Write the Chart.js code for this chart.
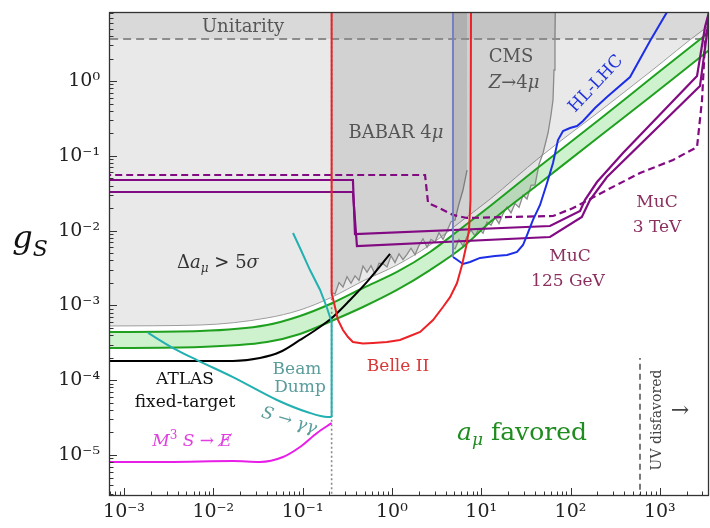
<!DOCTYPE html>
<html>
<head>
<meta charset="utf-8">
<script src="https://cdn.jsdelivr.net/npm/chart.js"></script>
<style>
  html, body { margin: 0; padding: 0; background: #fff; }
  #wrap { width: 710px; height: 528px; }
</style>
</head>
<body>
<div id="wrap"><canvas id="c" width="710" height="528"></canvas></div>
<script>
// ---- axis ranges and ticks (mass in GeV, coupling g_S) ----
const massRange = [6.79e-4, 3556];
const couplingRange = [2.83e-6, 8.37];
const xTickValues = [1e-3, 1e-2, 1e-1, 1, 10, 100, 1000];
const xTickLabels = ['10⁻³', '10⁻²', '10⁻¹', '10⁰', '10¹', '10²', '10³'];
const yTickValues = [1e-5, 1e-4, 1e-3, 1e-2, 1e-1, 1];
const yTickLabels = ['10⁻⁵', '10⁻⁴', '10⁻³', '10⁻²', '10⁻¹', '10⁰'];

// ---- reference values ----
const muonPairThreshold = 0.2113;   // 2 m_mu
const unitarityBound = 3.64;
const uvMass = 600;
const uvLineTop = 1.98e-4;

// ---- a_mu favoured band and 5 sigma exclusion ----
const bandMass  = [6e-4, 7.10e-3, 3.99e-2, 9.35e-2, 0.21, 0.474, 1.14, 2.67, 6.25, 12.6, 45.6, 214, 777, 3048, 3841];
const bandUpper = [4.41e-4, 4.55e-4, 5.47e-4, 7.22e-4, 1.06e-3, 1.71e-3, 2.80e-3, 5.18e-3, 1.117e-2, 2.13e-2, 7.31e-2, 0.310, 1.063, 3.88, 4.81];
const bandLower = [2.69e-4, 2.78e-4, 3.24e-4, 4.15e-4, 6.18e-4, 9.52e-4, 1.61e-3, 2.97e-3, 6.04e-3, 1.30e-2, 4.33e-2, 0.184, 0.611, 2.23, 2.76];
const excl5Sigma = [5.31e-4, 5.47e-4, 6.79e-4, 8.68e-4, 1.28e-3, 2.12e-3, 3.47e-3, 6.42e-3, 1.39e-2, 2.64e-2, 9.64e-2, 0.397, 1.32, 4.81, 5.78];

// ---- BABAR 4mu limit ----
const babarMass = [0.2113, 0.2306, 0.2557, 0.2834, 0.3142, 0.3483, 0.3861, 0.4281, 0.4746, 0.5261, 0.5834, 0.6467, 0.7167, 0.7949, 0.8814, 0.9770, 1.083, 1.201, 1.331, 1.476, 1.636, 1.814, 2.012, 2.230, 2.473, 2.741, 3.039, 3.369, 3.735, 4.140, 4.590, 5.089, 5.642, 6.255, 6.934];
const babarCoupling = [1.50e-3, 1.420e-3, 2.017e-3, 1.756e-3, 2.419e-3, 1.974e-3, 2.480e-3, 2.159e-3, 3.363e-3, 2.770e-3, 3.394e-3, 2.629e-3, 3.654e-3, 3.609e-3, 3.261e-3, 4.603e-3, 3.734e-3, 4.880e-3, 4.095e-3, 4.821e-3, 5.834e-3, 4.747e-3, 6.340e-3, 7.767e-3, 6.000e-3, 7.625e-3, 7.019e-3, 9.374e-3, 7.625e-3, 9.878e-3, 1.315e-2, 1.386e-2, 2.289e-2, 3.489e-2, 6.458e-2];

// ---- CMS Z -> 4mu limit ----
const cmsMass = [4.83, 5.089, 5.642, 6.255, 6.934, 7.688, 8.523, 9.450, 10.48, 11.61, 12.88, 14.27, 15.83, 17.54, 19.45, 21.57, 23.91, 26.51, 29.39, 32.58, 36.13, 40.05, 44.40, 49.23, 56.0, 60.47, 63.7, 65.35, 67.0, 67.6];
const cmsCoupling = [5.9e-3, 5.710e-3, 7.625e-3, 6.222e-3, 8.316e-3, 1.012e-2, 8.496e-3, 1.063e-2, 9.203e-3, 1.303e-2, 1.181e-2, 1.501e-2, 1.241e-2, 1.677e-2, 2.067e-2, 1.730e-2, 2.296e-2, 2.042e-2, 2.974e-2, 2.646e-2, 4.021e-2, 4.096e-2, 7.697e-2, 0.1090, 0.2017, 0.351, 0.557, 1.403, 3.53, 10];

// ---- Belle II projection ----
const belleMass = [0.2113, 0.2113, 0.2306, 0.249, 0.283, 0.3224, 0.366, 0.474, 0.614, 0.881, 1.23, 1.595, 2.07, 2.89, 3.73, 4.48, 5.36, 6.10, 6.76, 7.30, 7.59, 7.69];
const belleCoupling = [10, 1.47e-3, 9.52e-4, 6.38e-4, 4.69e-4, 3.78e-4, 3.24e-4, 3.09e-4, 3.14e-4, 3.24e-4, 3.45e-4, 3.90e-4, 4.41e-4, 6.38e-4, 9.52e-4, 1.29e-3, 1.99e-3, 3.47e-3, 6.04e-3, 1.02e-2, 2.56e-2, 10];

// ---- HL-LHC projection ----
const hllhcMass = [4.83, 5.22, 6.25, 7.50, 9.70, 14.27, 19.5, 25.2, 29.4, 32.6, 38.0, 45.6, 54.6, 63.7, 72.4, 82.4, 98.7, 118.3, 138, 188, 256, 464, 777, 1205, 1268];
const hllhcCoupling = [4.44e-3, 4.17e-3, 3.58e-3, 3.80e-3, 4.31e-3, 4.57e-3, 4.72e-3, 5.18e-3, 6.42e-3, 8.73e-3, 1.39e-2, 2.20e-2, 4.33e-2, 8.01e-2, 0.1627, 0.2146, 0.235, 0.2503, 0.292, 0.4356, 0.611, 1.131, 3.43, 8.37, 10];
const hllhcEdgeMass = [4.83, 4.83];
const hllhcEdgeCoupling = [10, 4.44e-3];

// ---- muon collider projections ----
const mucSolidAMass = [6e-4, 0.366, 0.386, 58.9, 128, 145, 198, 387, 2612, 3208, 3556];
const mucSolidACoupling = [0.0475, 0.0475, 9.01e-3, 1.152e-2, 1.83e-2, 2.56e-2, 4.46e-2, 0.109, 1.166, 5.27, 8.37];
const mucSolidBMass = [6e-4, 0.366, 0.406, 58.9, 134, 165, 256, 2818, 3378, 3556];
const mucSolidBCoupling = [0.0328, 0.0328, 6.22e-3, 8.21e-3, 1.52e-2, 2.56e-2, 5.21e-2, 0.857, 4.38, 7.63];
const mucDashedMass = [6e-4, 2.35, 2.54, 3.20, 4.83, 6.93, 63.7, 107, 256, 600, 1406, 2612, 2972, 3208, 3556];
const mucDashedCoupling = [0.0554, 0.0554, 0.0234, 0.0207, 0.0162, 0.01474, 0.01567, 0.0200, 0.0349, 0.0589, 0.0880, 0.131, 0.557, 3.22, 7.63];

// ---- ATLAS fixed-target ----
const atlasMass = [6e-4, 1.66e-2, 3.33e-2, 5.58e-2, 9.35e-2, 0.145, 0.219, 0.340, 0.526, 0.953];
const atlasCoupling = [1.81e-4, 1.81e-4, 1.98e-4, 2.38e-4, 3.45e-4, 4.84e-4, 7.00e-4, 1.18e-3, 2.06e-3, 4.87e-3];

// ---- beam dump S -> gamma gamma ----
const beamDumpEdgeMass = [7.81e-2, 9.35e-2, 0.121, 0.157, 0.1876, 0.2113, 0.2113];
const beamDumpEdgeCoupling = [9.29e-3, 5.85e-3, 2.97e-3, 1.61e-3, 9.23e-4, 6.00e-4, 3.22e-5];
const beamDumpFloorMass = [1.86e-3, 3.54e-3, 6.57e-3, 1.66e-2, 5.16e-2, 0.112, 0.192, 0.2113];
const beamDumpFloorCoupling = [4.28e-4, 2.69e-4, 1.86e-4, 1.10e-4, 5.44e-5, 3.76e-5, 3.22e-5, 3.22e-5];

// ---- M^3 invisible ----
const m3Mass = [6e-4, 3.03e-3, 1.66e-2, 3.33e-2, 6.03e-2, 9.35e-2, 0.145, 0.2113];
const m3Coupling = [8.06e-6, 8.06e-6, 8.31e-6, 8.06e-6, 9.40e-6, 1.28e-5, 1.97e-5, 2.68e-5];

const pts = (xs, ys) => xs.map((x, i) => ({ x, y: ys[i] }));

const SERIF = "'DejaVu Serif', 'Liberation Serif', serif";

function line(data, color, extra) {
  return Object.assign({
    data, borderColor: color, backgroundColor: 'transparent', borderWidth: 2,
    pointRadius: 0, fill: false, tension: 0
  }, extra || {});
}

const datasets = [
  // 0: 5 sigma exclusion (filled above)
  line(pts(bandMass, excl5Sigma), '#9c9c9c', { borderWidth: 1, fill: 'end', backgroundColor: 'rgba(0,0,0,0.085)', cubicInterpolationMode: 'monotone', order: 30 }),
  // 1: band fill (upper edge, filled to dataset 2)
  line(pts(bandMass, bandUpper), 'transparent', { borderWidth: 0, fill: 2, backgroundColor: 'rgba(60,200,60,0.25)', cubicInterpolationMode: 'monotone', order: 28 }),
  // 2: band lower edge
  line(pts(bandMass, bandLower), '#1fa01f', { cubicInterpolationMode: 'monotone', order: 10 }),
  // 3: band upper edge
  line(pts(bandMass, bandUpper), '#1fa01f', { cubicInterpolationMode: 'monotone', order: 10 }),
  // 4: BABAR
  line(pts(babarMass, babarCoupling), '#8a8a8a', { borderWidth: 1.3, fill: 'end', backgroundColor: 'rgba(0,0,0,0.10)', order: 26 }),
  // 5: CMS
  line(pts(cmsMass, cmsCoupling), '#8a8a8a', { borderWidth: 1.3, fill: 'end', backgroundColor: 'rgba(0,0,0,0.10)', order: 25 }),
  // 6: unitarity
  line([{ x: 5e-4, y: unitarityBound }, { x: 5000, y: unitarityBound }], '#8c8c8c', { borderDash: [8, 5], fill: 'end', backgroundColor: 'rgba(0,0,0,0.07)', order: 24 }),
  // 7: threshold dotted line
  line([{ x: muonPairThreshold, y: 1e-6 }, { x: muonPairThreshold, y: 10 }], '#8a8a8a', { borderWidth: 1.6, borderDash: [2, 2.5], order: 20 }),
  // 8: ATLAS
  line(pts(atlasMass, atlasCoupling), '#000000', { cubicInterpolationMode: 'monotone', order: 9 }),
  // 9: M3
  line(pts(m3Mass, m3Coupling), '#e81ee8', { cubicInterpolationMode: 'monotone', order: 9 }),
  // 10: beam dump edge
  line(pts(beamDumpEdgeMass, beamDumpEdgeCoupling), '#22b0b0', { order: 8 }),
  // 11: beam dump floor
  line(pts(beamDumpFloorMass, beamDumpFloorCoupling), '#22b0b0', { cubicInterpolationMode: 'monotone', order: 8 }),
  // 12-14: muon collider
  line(pts(mucSolidAMass, mucSolidACoupling), '#820a82', { borderWidth: 2.2, order: 7 }),
  line(pts(mucSolidBMass, mucSolidBCoupling), '#820a82', { borderWidth: 2.2, order: 7 }),
  line(pts(mucDashedMass, mucDashedCoupling), '#820a82', { borderWidth: 2.2, borderDash: [7, 4], order: 7 }),
  // 15: HL-LHC edge
  line(pts(hllhcEdgeMass, hllhcEdgeCoupling), 'rgb(120,126,196)', { order: 6 }),
  // 16: HL-LHC
  line(pts(hllhcMass, hllhcCoupling), '#1c2ee6', { order: 6 }),
  // 17: Belle II
  line(pts(belleMass, belleCoupling), '#ec2226', { order: 5 }),
  // 18: UV disfavoured line
  line([{ x: uvMass, y: 1e-6 }, { x: uvMass, y: uvLineTop }], '#7a7a7a', { borderDash: [6, 4], order: 4 })
];

function drawRich(ctx, x, y, parts, o) {
  const base = o.size;
  const fontFor = p => `${p.i ? 'italic ' : ''}${p.small ? Math.round(base * 0.68) : base}px ${SERIF}`;
  let w = 0;
  parts.forEach(p => { ctx.font = fontFor(p); p.w = ctx.measureText(p.t).width; w += p.w; });
  ctx.save();
  ctx.translate(x, y);
  if (o.rot) ctx.rotate(o.rot);
  ctx.fillStyle = o.color;
  ctx.textBaseline = 'middle';
  ctx.textAlign = 'left';
  let cx = -w / 2;
  parts.forEach(p => {
    ctx.font = fontFor(p);
    const dy = p.sub ? base * 0.32 : (p.sup ? -base * 0.38 : 0);
    ctx.fillText(p.t, cx, dy);
    cx += p.w;
  });
  ctx.restore();
}

const T = (t, f) => Object.assign({ t }, f || {});

const annotations = [
  { at: [243, 27], size: 18, color: '#555', parts: [T('Unitarity')] },
  { at: [218, 263], size: 18, color: '#333', parts: [T('Δ'), T('a', { i: true }), T('μ', { i: true, small: true, sub: true }), T(' > 5'), T('σ', { i: true })] },
  { at: [396, 133], size: 18, color: '#555', parts: [T('BABAR 4'), T('μ', { i: true })] },
  { at: [511, 57], size: 18, color: '#555', parts: [T('CMS')] },
  { at: [514, 83], size: 18, color: '#555', parts: [T('Z', { i: true }), T('→4'), T('μ', { i: true })] },
  { at: [596, 84], size: 17, color: '#2233dd', rot: -0.82, parts: [T('HL-LHC')] },
  { at: [657, 203], size: 17, color: '#8b2f5e', parts: [T('MuC')] },
  { at: [657, 228], size: 17, color: '#8b2f5e', parts: [T('3 TeV')] },
  { at: [570, 257], size: 17, color: '#8b2f5e', parts: [T('MuC')] },
  { at: [568, 282], size: 17, color: '#8b2f5e', parts: [T('125 GeV')] },
  { at: [398, 367], size: 17, color: '#d83838', parts: [T('Belle II')] },
  { at: [185, 380], size: 17, color: '#111', parts: [T('ATLAS')] },
  { at: [185, 403], size: 17, color: '#111', parts: [T('fixed-target')] },
  { at: [297, 370], size: 17, color: '#5b9c9c', parts: [T('Beam')] },
  { at: [300, 388], size: 17, color: '#5b9c9c', parts: [T('Dump')] },
  { at: [289, 421], size: 17, color: '#5b9c9c', rot: 0.30, parts: [T('S', { i: true }), T(' → '), T('γγ', { i: true })] },
  { at: [192, 442], size: 17, color: '#e040e0', parts: [T('M', { i: true }), T('3', { small: true, sup: true }), T(' '), T('S', { i: true }), T(' → '), T('E̸', { i: true })] },
  { at: [522, 433], size: 25, color: '#1e8c1e', parts: [T('a', { i: true }), T('μ', { i: true, small: true, sub: true }), T(' favored')] },
  { at: [657, 420], size: 14, color: '#444', rot: -Math.PI / 2, parts: [T('UV disfavored')] },
  { at: [680, 411], size: 22, color: '#444', parts: [T('→')] },
  { at: [30, 240], size: 32, color: '#111', parts: [T('g', { i: true }), T('S', { i: true, small: true, sub: true })] }
];

const frameAndText = {
  id: 'frameAndText',
  afterDatasetsDraw(chart) {
    const { ctx, chartArea: a } = chart;
    const xs = chart.scales.x, ys = chart.scales.y;
    ctx.save();
    ctx.strokeStyle = '#333';
    ctx.lineWidth = 1;
    ctx.beginPath();
    for (let d = -4; d <= 4; d++) {
      for (let k = 1; k <= 9; k++) {
        const v = k * Math.pow(10, d);
        if (v >= xs.min && v <= xs.max) {
          const p = Math.round(xs.getPixelForValue(v)) + 0.5;
          ctx.moveTo(p, a.bottom);
          ctx.lineTo(p, a.bottom - (k === 1 ? 8 : 4.5));
        }
      }
    }
    for (let d = -6; d <= 1; d++) {
      for (let k = 1; k <= 9; k++) {
        const v = k * Math.pow(10, d);
        if (v >= ys.min && v <= ys.max) {
          const p = Math.round(ys.getPixelForValue(v)) + 0.5;
          ctx.moveTo(a.left, p);
          ctx.lineTo(a.left + (k === 1 ? 8 : 4.5), p);
        }
      }
    }
    ctx.stroke();
    ctx.lineWidth = 1.3;
    ctx.strokeRect(a.left + 0.5, a.top + 0.5, a.right - a.left - 1, a.bottom - a.top - 1);
    ctx.restore();
  },
  afterDraw(chart) {
    const ctx = chart.ctx;
    annotations.forEach(n => drawRich(ctx, n.at[0], n.at[1], n.parts, n));
  }
};

// keep the plotting frame fixed: no extra room reserved for edge tick labels
function fixPadding(scale) {
  scale.paddingTop = 0; scale.paddingBottom = 0;
  scale.paddingLeft = 0; scale.paddingRight = 0;
}

new Chart(document.getElementById('c'), {
  type: 'line',
  data: { datasets },
  options: {
    responsive: false,
    devicePixelRatio: 1,
    animation: false,
    layout: { padding: { top: 12, right: 1, left: 0, bottom: 0 } },
    plugins: { legend: { display: false }, tooltip: { enabled: false } },
    scales: {
      x: {
        type: 'logarithmic',
        min: massRange[0], max: massRange[1],
        grid: { display: false, drawTicks: false },
        border: { display: false },
        afterFit(scale) { scale.height = 32; fixPadding(scale); },
        afterBuildTicks(scale) { scale.ticks = xTickValues.map(v => ({ value: v })); },
        ticks: {
          autoSkip: false, maxRotation: 0, padding: 5, color: '#222',
          font: { family: SERIF, size: 19 },
          callback: (v, i) => xTickLabels[i]
        }
      },
      y: {
        type: 'logarithmic',
        min: couplingRange[0], max: couplingRange[1],
        grid: { display: false, drawTicks: false },
        border: { display: false },
        afterFit(scale) { scale.width = 109; fixPadding(scale); },
        afterBuildTicks(scale) { scale.ticks = yTickValues.map(v => ({ value: v })); },
        ticks: {
          autoSkip: false, padding: 9, color: '#222',
          font: { family: SERIF, size: 19 },
          callback: (v, i) => yTickLabels[i]
        }
      }
    }
  },
  plugins: [frameAndText]
});
</script>
</body>
</html>
